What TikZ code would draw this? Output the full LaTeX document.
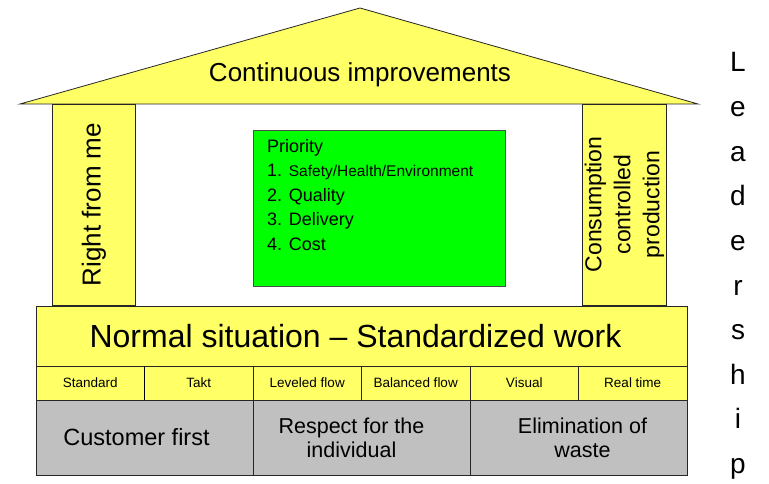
\documentclass[tikz,border=0pt]{standalone}
\usepackage{fontspec}
\setmainfont{Liberation Sans}
\usetikzlibrary{positioning}

\definecolor{roofyellow}{RGB}{255,255,102}
\definecolor{basegray}{RGB}{192,192,192}
\definecolor{prioGreen}{RGB}{0,255,0}

\begin{document}
\begin{tikzpicture}[x=1pt, y=-1pt]
  \tikzstyle{block}=[draw=black!85, line width=.8, inner sep=0, outer sep=0, align=center]
  \tikzstyle{yellow-block}=[block, fill=roofyellow]
  \tikzstyle{pillar}=[yellow-block, rotate=90, minimum width=201, minimum height=83.5]
  \tikzstyle{cell}=[yellow-block, minimum width=108.5, minimum height=34, font=\fontsize{13.5}{16}\selectfont]
  \tikzstyle{base-cell}=[block, fill=basegray, minimum width=217, minimum height=75, font=\fontsize{21.5}{24}\selectfont]
  \tikzstyle{lead}=[font=\fontsize{28}{30}\selectfont, inner sep=0, anchor=base]

  \useasboundingbox (0,0) rectangle (769,484);

  % roof
  \coordinate (R-L) at (20,104);
  \coordinate (R-T) at (360,8);
  \coordinate (R-R) at (698,104);
  \draw [fill=roofyellow, draw=black!85, line width=.8] (R-L) -- (R-T) -- (R-R) -- cycle;
  \node [font=\fontsize{26}{30}\selectfont, anchor=base] (roof) at (360,82) {Continuous improvements};

  % pillars
  \node [pillar, font=\fontsize{26}{30}\selectfont] (P-L) at (94,204.5) {Right from me};
  \node [pillar, font=\fontsize{23}{29}\selectfont] (P-R) at (624.5,204.5) {Consumption\\controlled\\production};

  % priorities
  \node [block, draw=black!70, fill=prioGreen, minimum width=252, minimum height=156] (prio) at (379,208) {};
  \node [below right = 9pt and 14pt of prio.north west, inner sep=0, align=left,
         font=\fontsize{18}{24.5}\selectfont] (prio-text)
    {Priority\\1. {\fontsize{15.5}{24.5}\selectfont Safety/Health/Environment}\\2. Quality\\3. Delivery\\4. Cost};

  % foundation
  \node [yellow-block, minimum width=651, minimum height=60, font=\fontsize{32}{36}\selectfont] (band) at (361.5,336)
    {\hspace*{-12pt}Normal situation -- Standardized work};

  \node [cell, below right = 0 of band.south west] (std) {Standard};
  \node [cell, right = 0 of std] (takt) {Takt};
  \node [cell, right = 0 of takt] (lev) {Leveled flow};
  \node [cell, right = 0 of lev] (bal) {Balanced flow};
  \node [cell, right = 0 of bal] (vis) {Visual};
  \node [cell, right = 0 of vis] (rt) {Real time};
  \draw [line width=1.6] (std.north east) -- (std.south east);

  \node [base-cell, below right = 0 of std.south west, font=\fontsize{23.5}{26}\selectfont] (cust)
    {\hspace*{-16pt}Customer first};
  \node [base-cell, right = 0 of cust] (resp) {\hspace*{-20pt}Respect for the\\\hspace*{-20pt}individual};
  \node [base-cell, right = 0 of resp] (waste) {\hspace*{8pt}Elimination of\\\hspace*{8pt}waste};

  % leadership
  \foreach \ch [count=\i from 0] in {L,e,a,d,e,r,s,h,i,p}
    \node [lead] (lead-\i) at (738,72+44.6*\i) {\ch};
\end{tikzpicture}
\end{document}
